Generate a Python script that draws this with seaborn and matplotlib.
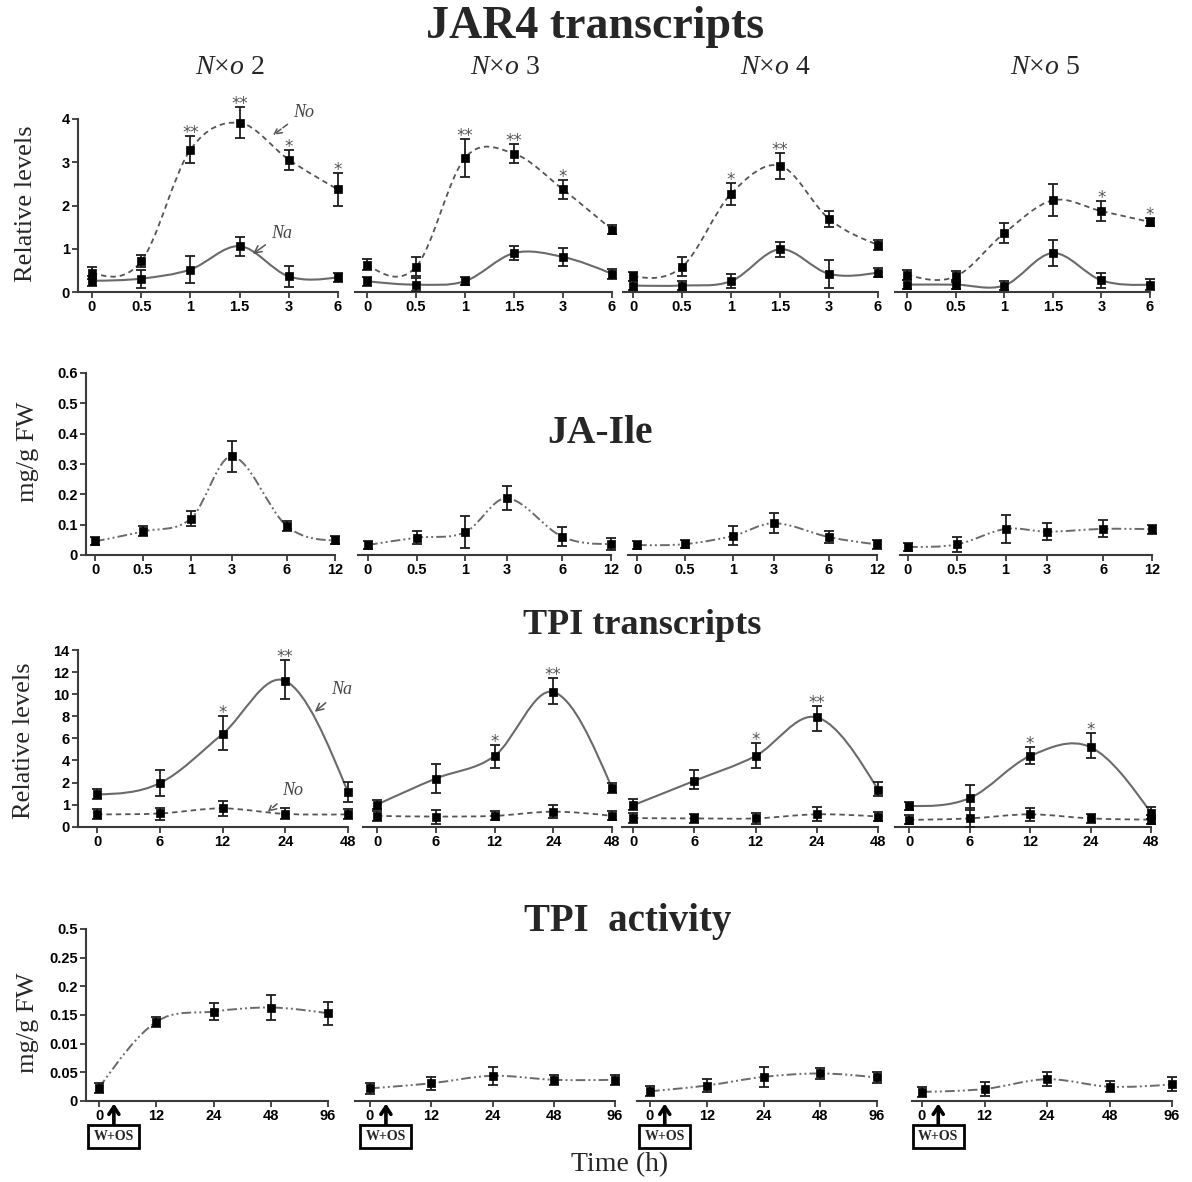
import numpy as np
import matplotlib
matplotlib.use("Agg")
import matplotlib.pyplot as plt
import matplotlib.transforms as mtransforms
from matplotlib.path import Path
from matplotlib.patches import PathPatch
import seaborn as sns

# ---------------- data ----------------
nxo_labels = ["2", "3", "4", "5"]

jar4_time = ["0", "0.5", "1", "1.5", "3", "6"]
jar4_no_vals = [[0.44, 0.71, 3.29, 3.91, 3.06, 2.37],
                [0.63, 0.58, 3.10, 3.20, 2.37, 1.44],
                [0.36, 0.58, 2.27, 2.92, 1.69, 1.09],
                [0.40, 0.36, 1.36, 2.12, 1.87, 1.62]]
jar4_no_err = [[0.13, 0.14, 0.31, 0.36, 0.23, 0.39],
               [0.13, 0.22, 0.43, 0.22, 0.22, 0.10],
               [0.11, 0.22, 0.26, 0.30, 0.19, 0.11],
               [0.12, 0.13, 0.23, 0.37, 0.23, 0.09]]
jar4_na_vals = [[0.26, 0.31, 0.52, 1.06, 0.36, 0.34],
                [0.25, 0.17, 0.25, 0.90, 0.81, 0.42],
                [0.15, 0.15, 0.25, 0.99, 0.42, 0.45],
                [0.17, 0.17, 0.15, 0.90, 0.27, 0.17]]
jar4_na_err = [[0.11, 0.21, 0.31, 0.22, 0.25, 0.11],
               [0.10, 0.15, 0.09, 0.16, 0.21, 0.11],
               [0.10, 0.10, 0.16, 0.17, 0.33, 0.11],
               [0.10, 0.10, 0.11, 0.31, 0.17, 0.12]]
jar4_stars = [["", "", "**", "**", "*", "*"],
              ["", "", "**", "**", "*", ""],
              ["", "", "*", "**", "", ""],
              ["", "", "", "", "*", "*"]]

jaile_time = ["0", "0.5", "1", "3", "6", "12"]
jaile_vals = [[0.045, 0.078, 0.120, 0.325, 0.095, 0.048],
              [0.033, 0.057, 0.075, 0.187, 0.060, 0.036],
              [0.033, 0.036, 0.063, 0.105, 0.059, 0.035],
              [0.027, 0.035, 0.086, 0.077, 0.086, 0.085]]
jaile_err = [[0.013, 0.016, 0.025, 0.052, 0.017, 0.013],
             [0.013, 0.022, 0.053, 0.040, 0.031, 0.020],
             [0.013, 0.014, 0.031, 0.032, 0.019, 0.016],
             [0.014, 0.024, 0.046, 0.028, 0.028, 0.015]]

tpi_time = ["0", "6", "12", "24", "48"]
tpi_na_vals = [[1.46, 1.97, 6.39, 11.2, 1.56],
               [1.00, 2.36, 4.40, 10.2, 1.75],
               [0.97, 2.15, 4.40, 7.90, 1.68],
               [0.94, 1.29, 4.40, 5.20, 0.63]]
tpi_na_up = [[0.24, 1.16, 1.60, 1.90, 0.53],
             [0.22, 1.34, 0.98, 1.30, 0.22],
             [0.29, 0.95, 1.20, 1.06, 0.41],
             [0.20, 0.59, 0.80, 1.30, 0.27]]
tpi_na_dn = [[0.22, 0.56, 1.47, 1.65, 0.44],
             [0.20, 0.85, 1.06, 1.10, 0.24],
             [0.23, 0.45, 1.06, 1.26, 0.31],
             [0.20, 0.55, 0.70, 1.00, 0.27]]
tpi_no_vals = [[0.56, 0.60, 0.83, 0.58, 0.56],
               [0.49, 0.46, 0.49, 0.68, 0.49],
               [0.39, 0.375, 0.375, 0.56, 0.46],
               [0.31, 0.375, 0.56, 0.375, 0.32]]
tpi_no_up = [[0.23, 0.24, 0.32, 0.25, 0.22],
             [0.21, 0.30, 0.20, 0.32, 0.20],
             [0.21, 0.20, 0.24, 0.32, 0.21],
             [0.21, 0.46, 0.28, 0.22, 0.21]]
tpi_no_dn = [[0.22, 0.28, 0.34, 0.23, 0.22],
             [0.21, 0.32, 0.20, 0.30, 0.20],
             [0.21, 0.20, 0.24, 0.31, 0.21],
             [0.21, 0.40, 0.28, 0.22, 0.21]]
tpi_stars = [["", "", "*", "**", ""],
             ["", "", "*", "**", ""],
             ["", "", "*", "**", ""],
             ["", "", "*", "*", ""]]
tpi_yticks = [0, 1, 2, 4, 6, 8, 10, 12, 14]

act_time = ["0", "12", "24", "48", "96"]
act_vals = [[0.023, 0.138, 0.156, 0.163, 0.153],
            [0.022, 0.031, 0.044, 0.037, 0.037],
            [0.017, 0.027, 0.042, 0.048, 0.041],
            [0.016, 0.021, 0.038, 0.025, 0.029]]
act_err = [[0.009, 0.009, 0.0145, 0.022, 0.020],
           [0.009, 0.011, 0.016, 0.009, 0.009],
           [0.009, 0.011, 0.017, 0.009, 0.009],
           [0.009, 0.012, 0.012, 0.010, 0.012]]
act_yticks = [0, 0.05, 0.10, 0.15, 0.20, 0.25, 0.30]
act_yticklabels = ["0", "0.05", "0.01", "0.15", "0.2", "0.25", "0.5"]

# ---------------- style ----------------
sns.set_theme(style="ticks")
plt.rcParams["font.family"] = ["Liberation Sans", "DejaVu Sans"]
plt.rcParams["mathtext.fontset"] = "custom"
plt.rcParams["mathtext.it"] = "Liberation Serif:italic"
plt.rcParams["mathtext.rm"] = "Liberation Serif"
SERIF = ["Liberation Serif", "DejaVu Serif"]

W, H = 1192, 1182
fig = plt.figure(figsize=(W / 100, H / 100), dpi=100)
fig.patch.set_facecolor("white")

AXC = "#3a3a3a"
LINE_NO = (0, (3.0, 2.2))
LINE_DDOT = (0, (5, 1.6, 1, 1.6, 1, 1.6))

# layout in pixels: (axis-line start, first tick, last tick)
rows_layout = {
    "jar4": dict(bottom=292, top=119, panels=[(78, 92, 338), (355, 367, 612), (623, 633, 878), (895, 907, 1150)]),
    "jaile": dict(bottom=555, top=373, panels=[(86, 95, 335), (358, 368, 611), (628, 637, 877), (900, 908, 1152)]),
    "tpi": dict(bottom=826.7, top=650, panels=[(78, 97, 348), (363, 377, 612), (622, 633, 878), (895, 909, 1151)]),
    "act": dict(bottom=1101, top=929, panels=[(86, 99, 328), (355, 370, 615), (637, 650, 877), (912, 922, 1172)]),
}
jaile_pos = [0, 1, 2, 2.85, 4, 5]


def fwd_tpi(y):
    y = np.asarray(y, dtype=float)
    return np.where(y < 2, y, 2 + (y - 2) / 2.0)


def inv_tpi(p):
    p = np.asarray(p, dtype=float)
    return np.where(p < 2, p, 2 + (p - 2) * 2.0)


def ident(v):
    return np.asarray(v, dtype=float)


def make_ax(row, k, xmax):
    lay = rows_layout[row]
    left, first, last = lay["panels"][k]
    spacing = (last - first) / xmax
    rect = [left / W, (H - lay["bottom"]) / H, (last - left) / W, (lay["bottom"] - lay["top"]) / H]
    ax = fig.add_axes(rect)
    ax.set_facecolor("none")
    ax.set_xlim(-(first - left) / spacing, xmax)
    for s in ["top", "right"]:
        ax.spines[s].set_visible(False)
    for s in ["left", "bottom"]:
        ax.spines[s].set_color(AXC)
        ax.spines[s].set_linewidth(1.5)
    ax.tick_params(direction="out", length=4, width=1.3, color=AXC, pad=2,
                   labelsize=10.5, labelcolor="black")
    if k > 0:
        ax.spines["left"].set_visible(False)
        ax.tick_params(left=False, labelleft=False)
    return ax


def spline(ax, x, y, fwd, inv, **kw):
    """Smooth Catmull-Rom style curve through the data points (drawn as Bezier path)."""
    x = np.asarray(x, float)
    p = fwd(np.asarray(y, float))
    n = len(x)
    h = np.diff(x)
    m = np.empty(n)
    for i in range(1, n - 1):
        m[i] = (p[i + 1] - p[i - 1]) / (x[i + 1] - x[i - 1])
    m[0] = (3 * (p[1] - p[0]) / h[0] - m[1]) / 2
    m[-1] = (3 * (p[-1] - p[-2]) / h[-1] - m[-2]) / 2
    vx = [x[0]]
    vp = [p[0]]
    codes = [Path.MOVETO]
    for i in range(n - 1):
        vx += [x[i] + h[i] / 3, x[i + 1] - h[i] / 3, x[i + 1]]
        vp += [p[i] + m[i] * h[i] / 3, p[i + 1] - m[i + 1] * h[i] / 3, p[i + 1]]
        codes += [Path.CURVE4] * 3
    verts = np.column_stack([vx, inv(np.array(vp))])
    patch = PathPatch(Path(verts, codes), fill=False, clip_on=False, transform=ax.transData, **kw)
    ax.add_patch(patch)


def points(ax, x, y, yerr):
    eb = ax.errorbar(x, y, yerr=yerr, fmt="none", ecolor="#1e1e1e", elinewidth=1.3,
                     capsize=3.5, capthick=1.3, zorder=4)
    for child in eb.get_children():
        child.set_clip_on(False)
    sns.scatterplot(x=list(x), y=list(y), marker="s", s=36, color="black", edgecolor="black",
                    linewidth=0.5, ax=ax, zorder=6, clip_on=False, legend=False)


def stars(ax, x, tops, labels):
    for xi, t, lab in zip(x, tops, labels):
        if lab:
            ax.annotate(lab, xy=(xi, t), xytext=(0, -1.5), textcoords="offset points",
                        ha="center", va="baseline", fontsize=12, color="#555555",
                        family="DejaVu Sans", annotation_clip=False)


# ---------------- row 1: JAR4 transcripts ----------------
for k in range(4):
    ax = make_ax("jar4", k, 5)
    x = np.arange(len(jar4_time))
    ax.set_ylim(0, 4)
    spline(ax, x, jar4_no_vals[k], ident, ident, edgecolor="#555555", lw=1.3, linestyle=LINE_NO, zorder=3)
    spline(ax, x, jar4_na_vals[k], ident, ident, edgecolor="#6a6a6a", lw=1.5, linestyle="-", zorder=3)
    points(ax, x, jar4_no_vals[k], jar4_no_err[k])
    points(ax, x, jar4_na_vals[k], jar4_na_err[k])
    stars(ax, x, np.array(jar4_no_vals[k]) + np.array(jar4_no_err[k]), jar4_stars[k])
    ax.set_xticks(x)
    ax.set_xticklabels(jar4_time, fontweight="bold")
    ax.set_yticks([0, 1, 2, 3, 4])
    ax.set_yticklabels(["0", "1", "2", "3", "4"], fontweight="bold")
    ax.set_xlabel("")
    ax.set_ylabel("")
    if k == 0:
        ax.annotate("No", xy=(3.68, 3.63), xytext=(4.3, 4.15), ha="center", va="center",
                    fontsize=13, style="italic", family=SERIF, color="#444444", annotation_clip=False,
                    arrowprops=dict(arrowstyle="->", color="#555555", lw=1.1, linestyle="--",
                                    shrinkA=2, shrinkB=0))
        ax.annotate("Na", xy=(3.27, 0.88), xytext=(3.85, 1.36), ha="center", va="center",
                    fontsize=13, style="italic", family=SERIF, color="#444444", annotation_clip=False,
                    arrowprops=dict(arrowstyle="->", color="#555555", lw=1.1, shrinkA=2, shrinkB=0))

# ---------------- row 2: JA-Ile ----------------
for k in range(4):
    ax = make_ax("jaile", k, 5)
    ax.set_ylim(0, 0.6)
    spline(ax, jaile_pos, jaile_vals[k], ident, ident, edgecolor="#6a6a6a", lw=1.4, linestyle=LINE_DDOT, zorder=3)
    points(ax, jaile_pos, jaile_vals[k], jaile_err[k])
    ax.set_xticks(jaile_pos)
    ax.set_xticklabels(jaile_time, fontweight="bold")
    ax.set_yticks([0, 0.1, 0.2, 0.3, 0.4, 0.5, 0.6])
    ax.set_yticklabels(["0", "0.1", "0.2", "0.3", "0.4", "0.5", "0.6"], fontweight="bold")
    ax.set_xlabel("")
    ax.set_ylabel("")

# ---------------- row 3: TPI transcripts ----------------
for k in range(4):
    ax = make_ax("tpi", k, 4)
    ax.set_yscale("function", functions=(fwd_tpi, inv_tpi))
    ax.set_ylim(0, 14)
    x = np.arange(len(tpi_time))
    spline(ax, x, tpi_na_vals[k], fwd_tpi, inv_tpi, edgecolor="#6a6a6a", lw=1.5, linestyle="-", zorder=3)
    spline(ax, x, tpi_no_vals[k], fwd_tpi, inv_tpi, edgecolor="#555555", lw=1.3, linestyle=LINE_NO, zorder=3)
    points(ax, x, tpi_na_vals[k], [tpi_na_dn[k], tpi_na_up[k]])
    points(ax, x, tpi_no_vals[k], [tpi_no_dn[k], tpi_no_up[k]])
    stars(ax, x, np.array(tpi_na_vals[k]) + np.array(tpi_na_up[k]), tpi_stars[k])
    ax.set_xticks(x)
    ax.set_xticklabels(tpi_time, fontweight="bold")
    ax.set_yticks(tpi_yticks)
    ax.set_yticklabels([str(t) for t in tpi_yticks], fontweight="bold")
    ax.yaxis.set_minor_locator(matplotlib.ticker.NullLocator())
    ax.set_xlabel("")
    ax.set_ylabel("")
    if k == 0:
        ax.annotate("Na", xy=(3.47, 8.4), xytext=(3.9, 10.4), ha="center", va="center",
                    fontsize=13, style="italic", family=SERIF, color="#444444", annotation_clip=False,
                    arrowprops=dict(arrowstyle="->", color="#555555", lw=1.1, shrinkA=2, shrinkB=0))
        ax.annotate("No", xy=(2.72, 0.67), xytext=(3.12, 1.65), ha="center", va="center",
                    fontsize=13, style="italic", family=SERIF, color="#444444", annotation_clip=False,
                    arrowprops=dict(arrowstyle="->", color="#555555", lw=1.1, linestyle="--",
                                    shrinkA=2, shrinkB=0))

# ---------------- row 4: TPI activity ----------------
for k in range(4):
    ax = make_ax("act", k, 4)
    ax.set_ylim(0, 0.3)
    x = np.arange(len(act_time))
    spline(ax, x, act_vals[k], ident, ident, edgecolor="#6a6a6a", lw=1.4, linestyle=LINE_DDOT, zorder=3)
    points(ax, x, act_vals[k], act_err[k])
    ax.set_xticks(x)
    ax.set_xticklabels(act_time, fontweight="bold")
    ax.set_yticks(act_yticks)
    ax.set_yticklabels(act_yticklabels, fontweight="bold")
    ax.set_xlabel("")
    ax.set_ylabel("")
    tr = mtransforms.blended_transform_factory(ax.transData, ax.transAxes)
    ax.annotate("", xy=(0.26, -0.015), xycoords=tr, xytext=(0.26, -0.145), textcoords=tr,
                annotation_clip=False,
                arrowprops=dict(arrowstyle="->,head_length=0.45,head_width=0.3", lw=2.6,
                                color="black", shrinkA=0, shrinkB=0))
    ax.text(0.26, -0.207, "W+OS", transform=tr, ha="center", va="center", fontsize=10,
            fontweight="bold", family=SERIF, clip_on=False,
            bbox=dict(boxstyle="square,pad=0.38", fc="white", ec="black", lw=2))

# ---------------- titles & labels ----------------
def ftext(x, y, s, **kw):
    fig.text(x / W, 1 - y / H, s, ha="center", va="center", **kw)

ftext(595, 27, "JAR4 transcripts", fontsize=33, fontweight="bold", family=SERIF)
ftext(600, 433, "JA-Ile", fontsize=28.5, fontweight="bold", family=SERIF)
ftext(642, 625, "TPI transcripts", fontsize=26, fontweight="bold", family=SERIF)
ftext(628, 921, "TPI  activity", fontsize=28, fontweight="bold", family=SERIF)
for cx, lab in zip([230, 505, 775, 1045], nxo_labels):
    ftext(cx, 68, r"$N$×$o$ " + lab, fontsize=20, family=SERIF)
ftext(26, 204, "Relative levels", fontsize=19, family=SERIF, rotation=90)
ftext(24, 741, "Relative levels", fontsize=19, family=SERIF, rotation=90)
ftext(28, 452, "mg/g FW", fontsize=19, family=SERIF, rotation=90)
ftext(28, 1023, "mg/g FW", fontsize=19, family=SERIF, rotation=90)
ftext(620, 1165, "Time (h)", fontsize=20, family=SERIF)

fig.savefig("out.png", dpi=100, facecolor="white")
